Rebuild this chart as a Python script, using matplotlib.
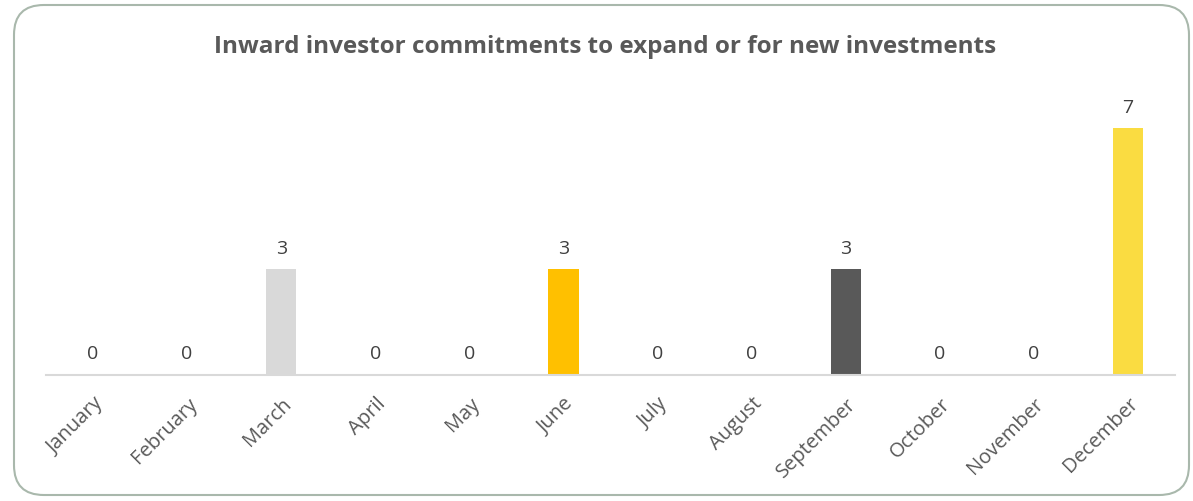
import matplotlib
matplotlib.use("Agg")
import matplotlib.pyplot as plt
from matplotlib.patches import FancyBboxPatch

months = ["January", "February", "March", "April", "May", "June", "July",
          "August", "September", "October", "November", "December"]
values = [0, 0, 3, 0, 0, 3, 0, 0, 3, 0, 0, 7]
colors = ["#D9D9D9", "#D9D9D9", "#D9D9D9", "#FFC000", "#FFC000", "#FFC000",
          "#595959", "#595959", "#595959", "#FADC41", "#FADC41", "#FADC41"]
title = "Inward investor commitments to expand or for new investments"

W, H = 1193, 502
fig = plt.figure(figsize=(W / 100, H / 100), dpi=100)
fig.patch.set_facecolor("white")

border = FancyBboxPatch((14 / W, 6 / H), (1189 - 14) / W, (496 - 6) / H,
                        boxstyle="round,pad=0,rounding_size=0.025",
                        transform=fig.transFigure, facecolor="white",
                        edgecolor="#A9B8AC", linewidth=1.5,
                        mutation_aspect=W / H, zorder=-5)
fig.patches.append(border)

ax = fig.add_axes([46 / W, (H - 376) / H, (1175 - 46) / W, (376 - 94) / H])
ax.set_zorder(5)
ax.set_facecolor("none")
x = range(len(months))
bars = ax.bar(x, values, width=0.32, color=colors, zorder=2)
ax.set_ylim(0, 8)
ax.set_xlim(-0.5, len(months) - 0.5)

for xi, v in zip(x, values):
    ax.annotate(str(v), (xi, v), xytext=(0, 9), textcoords="offset points",
                ha="center", va="bottom", fontsize=14, color="#404040",
                family="Open Sans")

for s in ["top", "right", "left"]:
    ax.spines[s].set_visible(False)
ax.spines["bottom"].set_color("#D9D9D9")
ax.spines["bottom"].set_linewidth(1.5)
ax.set_yticks([])
ax.set_xticks(list(x))
ax.set_xticklabels(months, rotation=45, ha="right", rotation_mode="anchor",
                   fontsize=14.5, color="#595959", family="Open Sans")
ax.tick_params(axis="x", length=0, pad=13)

fig.text(605 / W, 1 - 47 / H, title, ha="center", va="center",
         fontsize=17.5, fontweight="bold", color="#595959", family="Open Sans",
         zorder=6)

fig.savefig("out.png", dpi=100)
